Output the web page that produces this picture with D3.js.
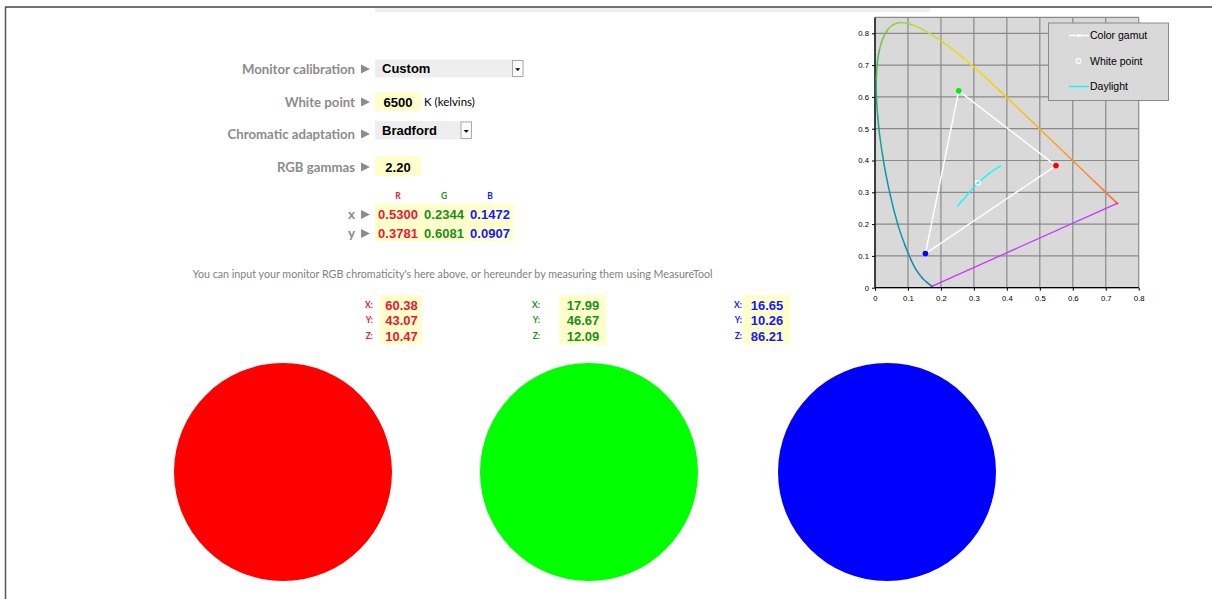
<!DOCTYPE html>
<html>
<head>
<meta charset="utf-8">
<script src="https://cdn.jsdelivr.net/npm/d3@7"></script>
<style>
  html, body { margin: 0; padding: 0; background: #fff; }
  svg { display: block; }
</style>
</head>
<body>
<svg id="chart" width="1212" height="599"></svg>
<script>
// ---------- DATA ----------
// CIE 1931 spectral locus (wavelength nm, x, y)
const locusWavelengths = [380,400,420,430,440,450,460,470,475,480,485,490,495,500,505,510,515,520,525,530,535,540,545,550,555,560,565,570,575,580,585,590,595,600,610,620,630,640,650,660,680,700];
const locusX = [0.1741,0.1733,0.1714,0.1689,0.1644,0.1566,0.1440,0.1241,0.1096,0.0913,0.0687,0.0454,0.0235,0.0082,0.0039,0.0139,0.0389,0.0743,0.1142,0.1547,0.1929,0.2296,0.2658,0.3016,0.3373,0.3731,0.4087,0.4441,0.4788,0.5125,0.5448,0.5752,0.6029,0.6270,0.6658,0.6915,0.7079,0.7190,0.7260,0.7300,0.7334,0.7347];
const locusY = [0.0050,0.0048,0.0051,0.0069,0.0109,0.0177,0.0297,0.0578,0.0868,0.1327,0.2007,0.2950,0.4127,0.5384,0.6548,0.7502,0.8120,0.8338,0.8262,0.8059,0.7816,0.7543,0.7243,0.6923,0.6589,0.6245,0.5896,0.5547,0.5202,0.4866,0.4544,0.4242,0.3965,0.3725,0.3340,0.3083,0.2920,0.2809,0.2740,0.2700,0.2666,0.2653];
// Daylight locus (4000 K .. 25000 K)
const daylightX = [0.3823,0.3621,0.3457,0.3325,0.3217,0.3128,0.3054,0.2938,0.2853,0.2788,0.2698,0.2614,0.2539,0.2499];
const daylightY = [0.3838,0.3709,0.3587,0.3476,0.3378,0.3292,0.3216,0.3092,0.2993,0.2914,0.2795,0.2702,0.2603,0.2548];
// Color gamut primaries as plotted (R, G, B)
const gamutNames = ["R","G","B"];
const gamutX = [0.549, 0.254, 0.153];
const gamutY = [0.384, 0.619, 0.107];
const whitePoint = [0.312, 0.330];
const axisTicks = [0,0.1,0.2,0.3,0.4,0.5,0.6,0.7,0.8];
const legendLabels = ["Color gamut","White point","Daylight"];

// Form values
const formLabels = ["Monitor calibration","White point","Chromatic adaptation","RGB gammas"];
const calibration = "Custom";
const whitePointK = "6500";
const adaptation = "Bradford";
const gamma = "2.20";
const primaryHeaders = ["R","G","B"];
const primaryX = ["0.5300","0.2344","0.1472"];
const primaryY = ["0.3781","0.6081","0.0907"];
const xyzLabels = ["X:","Y:","Z:"];
const xyzRed = ["60.38","43.07","10.47"];
const xyzGreen = ["17.99","46.67","12.09"];
const xyzBlue = ["16.65","10.26","86.21"];
const noteText = "You can input your monitor RGB chromaticity's here above, or hereunder by measuring them using MeasureTool";

// ---------- DRAW ----------
const svg = d3.select("#chart");
const RED = "#ee1536", GREEN = "#1a8f1a", BLUE = "#1616ff", GRAYTXT = "#8c8c8c";
const labelFont = "Lato, 'Open Sans', sans-serif";
const valFont = "'Liberation Sans', Arial, sans-serif";

// frame lines
svg.append("rect").attr("x", 375).attr("y", 8).attr("width", 555).attr("height", 4).attr("fill", "#f0f0f0");
svg.append("line").attr("x1", 5).attr("x2", 1212).attr("y1", 7).attr("y2", 7).attr("stroke", "#444").attr("stroke-width", 1.5);
svg.append("line").attr("x1", 5.5).attr("x2", 5.5).attr("y1", 7).attr("y2", 599).attr("stroke", "#555").attr("stroke-width", 1.5);

// ----- form -----
const rowY = [69, 102, 134, 167];
function arrow(xr, cy) {
  svg.append("path")
    .attr("d", `M${xr-9},${cy-4.5} L${xr},${cy} L${xr-9},${cy+4.5} Z`)
    .attr("fill", GRAYTXT);
}
formLabels.forEach((t, i) => {
  svg.append("text").attr("x", 355).attr("y", rowY[i]).attr("dy", "0.35em")
    .attr("text-anchor", "end").attr("font-family", labelFont).attr("font-weight", "bold")
    .attr("font-size", 13.2).attr("fill", GRAYTXT).text(t);
  arrow(370, rowY[i]);
});

function dropdown(x, y, w, h, text) {
  svg.append("rect").attr("x", x).attr("y", y).attr("width", w).attr("height", h).attr("fill", "#eeeeee");
  svg.append("rect").attr("x", x + w - 11).attr("y", y + 1).attr("width", 10.5).attr("height", h - 2)
    .attr("fill", "#fafafa").attr("stroke", "#999").attr("stroke-width", 0.8);
  const cx = x + w - 5.8, cy = y + h / 2 + 1;
  svg.append("path").attr("d", `M${cx-2.5},${cy-1.2} L${cx+2.5},${cy-1.2} L${cx},${cy+1.6} Z`).attr("fill", "#000");
  svg.append("text").attr("x", x + 7).attr("y", y + h / 2).attr("dy", "0.35em")
    .attr("font-family", valFont).attr("font-weight", "bold").attr("font-size", 13).attr("fill", "#000").text(text);
}
dropdown(375, 59.5, 148.5, 18, calibration);
dropdown(375, 121, 97, 18.5, adaptation);

const YEL = "#ffffcc";
svg.append("rect").attr("x", 375).attr("y", 92).attr("width", 46).attr("height", 19).attr("fill", YEL);
svg.append("text").attr("x", 398).attr("y", 102).attr("dy", "0.35em").attr("text-anchor", "middle")
  .attr("font-family", valFont).attr("font-weight", "bold").attr("font-size", 13).text(whitePointK);
svg.append("text").attr("x", 424).attr("y", 102).attr("dy", "0.35em")
  .attr("font-family", labelFont).attr("font-size", 11.5).attr("fill", "#000").text("K (kelvins)");

svg.append("rect").attr("x", 375).attr("y", 156).attr("width", 46).attr("height", 20).attr("fill", YEL);
svg.append("text").attr("x", 398).attr("y", 167).attr("dy", "0.35em").attr("text-anchor", "middle")
  .attr("font-family", valFont).attr("font-weight", "bold").attr("font-size", 13).text(gamma);

// primaries table
const colX = [398, 444, 490];
const colColor = [RED, GREEN, BLUE];
primaryHeaders.forEach((h, i) => {
  svg.append("text").attr("x", colX[i]).attr("y", 196.5).attr("dy", "0.35em").attr("text-anchor", "middle")
    .attr("font-family", labelFont).attr("font-weight", "bold").attr("font-size", 8.5).attr("fill", colColor[i]).text(h);
});
svg.append("rect").attr("x", 375).attr("y", 203.5).attr("width", 138.5).attr("height", 38).attr("fill", YEL);
[["x", 214.5, primaryX], ["y", 233.5, primaryY]].forEach(([lab, cy, vals]) => {
  svg.append("text").attr("x", 355).attr("y", cy).attr("dy", "0.35em").attr("text-anchor", "end")
    .attr("font-family", labelFont).attr("font-weight", "bold").attr("font-size", 13.5).attr("fill", GRAYTXT).text(lab);
  arrow(370, cy);
  vals.forEach((v, i) => {
    svg.append("text").attr("x", colX[i]).attr("y", cy).attr("dy", "0.35em").attr("text-anchor", "middle")
      .attr("font-family", valFont).attr("font-weight", "bold").attr("font-size", 13).attr("fill", colColor[i]).text(v);
  });
});

svg.append("text").attr("x", 452.5).attr("y", 274).attr("dy", "0.35em").attr("text-anchor", "middle")
  .attr("font-family", labelFont).attr("font-size", 10.7).attr("fill", "#7f7f7f").text(noteText);

// XYZ boxes
const xyzGroups = [
  {vals: xyzRed, color: RED, labX: 373, boxX: 380, boxW: 42},
  {vals: xyzGreen, color: GREEN, labX: 540, boxX: 559, boxW: 47},
  {vals: xyzBlue, color: BLUE, labX: 742, boxX: 743, boxW: 47}
];
const xyzRowY = [305, 320.5, 336.5];
xyzGroups.forEach(g => {
  svg.append("rect").attr("x", g.boxX).attr("y", 295).attr("width", g.boxW).attr("height", 49.5).attr("fill", YEL);
  xyzLabels.forEach((l, i) => {
    svg.append("text").attr("x", g.labX).attr("y", xyzRowY[i]).attr("dy", "0.35em").attr("text-anchor", "end")
      .attr("font-family", labelFont).attr("font-weight", "bold").attr("font-size", 8.5).attr("fill", g.color).text(l);
    svg.append("text").attr("x", g.boxX + g.boxW / 2 + 0.5).attr("y", xyzRowY[i]).attr("dy", "0.35em").attr("text-anchor", "middle")
      .attr("font-family", valFont).attr("font-weight", "bold").attr("font-size", 13).attr("fill", g.color).text(g.vals[i]);
  });
});

// big circles
const circleCX = [283, 589, 887];
const circleFill = ["#ff0000", "#00ff00", "#0000ff"];
circleCX.forEach((cx, i) => {
  svg.append("circle").attr("cx", cx).attr("cy", 472).attr("r", 109).attr("fill", circleFill[i]);
});

// ----- chromaticity chart -----
const x = d3.scaleLinear().domain([0, 0.8]).range([875, 1138.7]);
const y = d3.scaleLinear().domain([0, 0.85]).range([287.7, 17.4]);
const g = svg.append("g");
g.append("rect").attr("x", x(0)).attr("y", y(0.85)).attr("width", x(0.8) - x(0)).attr("height", y(0) - y(0.85)).attr("fill", "#d9d9d9");
axisTicks.forEach(t => {
  g.append("line").attr("x1", x(t)).attr("x2", x(t)).attr("y1", y(0)).attr("y2", y(0.85)).attr("stroke", "#8a8a8a").attr("stroke-width", 1.2);
  g.append("line").attr("x1", x(0)).attr("x2", x(0.8)).attr("y1", y(t)).attr("y2", y(t)).attr("stroke", "#8a8a8a").attr("stroke-width", 1.2);
});
g.append("line").attr("x1", x(0)).attr("x2", x(0.8)).attr("y1", y(0.85)).attr("y2", y(0.85)).attr("stroke", "#8a8a8a").attr("stroke-width", 1.2);

const xAxis = d3.axisBottom(x).tickValues(axisTicks).tickSize(3).tickFormat(d => d === 0 ? "0" : d3.format(".1f")(d));
const yAxis = d3.axisLeft(y).tickValues(axisTicks).tickSize(3).tickFormat(d => d === 0 ? "0" : d3.format(".1f")(d));
const gx = g.append("g").attr("transform", `translate(0,${y(0)})`).call(xAxis);
const gy = g.append("g").attr("transform", `translate(${x(0)},0)`).call(yAxis);
[gx, gy].forEach(a => {
  a.select(".domain").attr("stroke", "#000").attr("stroke-width", 1.3);
  a.selectAll(".tick line").attr("stroke", "#000");
  a.selectAll("text").attr("font-family", valFont).attr("font-size", 7.7).attr("fill", "#000");
});
gx.select(".domain").attr("d", `M${x(0)},0H${x(0.8)}`);
gy.select(".domain").attr("d", `M0,${y(0)}V${y(0.85)}`);
gx.selectAll("text").attr("dy", "0.9em");

// spectral locus: smooth (Catmull-Rom) segments, each with its own colour
const locusColor = d3.scaleLinear()
  .domain([380, 470, 495, 505, 515, 530, 550, 570, 590, 620, 700])
  .range(["#2274b0", "#1c86b4", "#00a0a4", "#30b468", "#88cc40", "#c8dc28", "#f0e000", "#ffc010", "#ff9a28", "#ff7838", "#ff5050"])
  .interpolate(d3.interpolateRgb);
const pts = locusX.map((v, i) => [x(v), y(locusY[i])]);
const n = pts.length;
for (let i = 0; i < n - 1; i++) {
  const p0 = pts[Math.max(i - 1, 0)], p1 = pts[i], p2 = pts[i + 1], p3 = pts[Math.min(i + 2, n - 1)];
  const c1 = [p1[0] + (p2[0] - p0[0]) / 6, p1[1] + (p2[1] - p0[1]) / 6];
  const c2 = [p2[0] - (p3[0] - p1[0]) / 6, p2[1] - (p3[1] - p1[1]) / 6];
  g.append("path")
    .attr("d", `M${p1[0]},${p1[1]}C${c1[0]},${c1[1]} ${c2[0]},${c2[1]} ${p2[0]},${p2[1]}`)
    .attr("fill", "none")
    .attr("stroke", locusColor((locusWavelengths[i] + locusWavelengths[i + 1]) / 2))
    .attr("stroke-width", 1.5).attr("stroke-linecap", "round");
}
// purple line
const last = n - 1;
g.append("line").attr("x1", x(locusX[last])).attr("y1", y(locusY[last]))
  .attr("x2", x(locusX[0])).attr("y2", y(locusY[0]))
  .attr("stroke", "#cc33ff").attr("stroke-width", 1.3);
g.append("circle").attr("cx", x(locusX[last])).attr("cy", y(locusY[last])).attr("r", 1.3).attr("fill", "#ff5050");

// daylight
const line = d3.line().x(d => x(d[0])).y(d => y(d[1])).curve(d3.curveMonotoneX);
g.append("path").datum(daylightX.map((v, i) => [v, daylightY[i]]).reverse())
  .attr("d", line).attr("fill", "none").attr("stroke", "#00ffff").attr("stroke-width", 1.3);

// gamut triangle (G -> R -> B -> G)
const tri = [1, 0, 2, 1].map(i => [gamutX[i], gamutY[i]]);
g.append("path").datum(tri).attr("d", d3.line().x(d => x(d[0])).y(d => y(d[1])))
  .attr("fill", "none").attr("stroke", "#fff").attr("stroke-width", 1.5);
const dotColors = ["#ff0000", "#00ee00", "#0000ff"];
gamutNames.forEach((nm, i) => {
  g.append("circle").attr("cx", x(gamutX[i])).attr("cy", y(gamutY[i])).attr("r", 2.8).attr("fill", dotColors[i]);
});
g.append("circle").attr("cx", x(whitePoint[0])).attr("cy", y(whitePoint[1])).attr("r", 2.4)
  .attr("fill", "none").attr("stroke", "#fff").attr("stroke-width", 1.1);

// legend
const lg = svg.append("g");
lg.append("rect").attr("x", 1048.5).attr("y", 23).attr("width", 120).attr("height", 77.5)
  .attr("fill", "#d9d9d9").attr("stroke", "#8a8a8a").attr("stroke-width", 1);
const legY = [35.5, 61, 86.5];
lg.append("line").attr("x1", 1069).attr("x2", 1089).attr("y1", legY[0]).attr("y2", legY[0]).attr("stroke", "#fff").attr("stroke-width", 1.5);
lg.append("rect").attr("x", 1077.5).attr("y", legY[0] - 1.5).attr("width", 3).attr("height", 3).attr("fill", "#fff");
lg.append("circle").attr("cx", 1078.5).attr("cy", legY[1]).attr("r", 2.4).attr("fill", "none").attr("stroke", "#fff").attr("stroke-width", 1.1);
lg.append("line").attr("x1", 1069).attr("x2", 1089).attr("y1", legY[2]).attr("y2", legY[2]).attr("stroke", "#00ffff").attr("stroke-width", 1.3);
legendLabels.forEach((t, i) => {
  lg.append("text").attr("x", 1090).attr("y", legY[i]).attr("dy", "0.35em")
    .attr("font-family", valFont).attr("font-size", 10.5).attr("fill", "#000").text(t);
});
</script>
</body>
</html>
